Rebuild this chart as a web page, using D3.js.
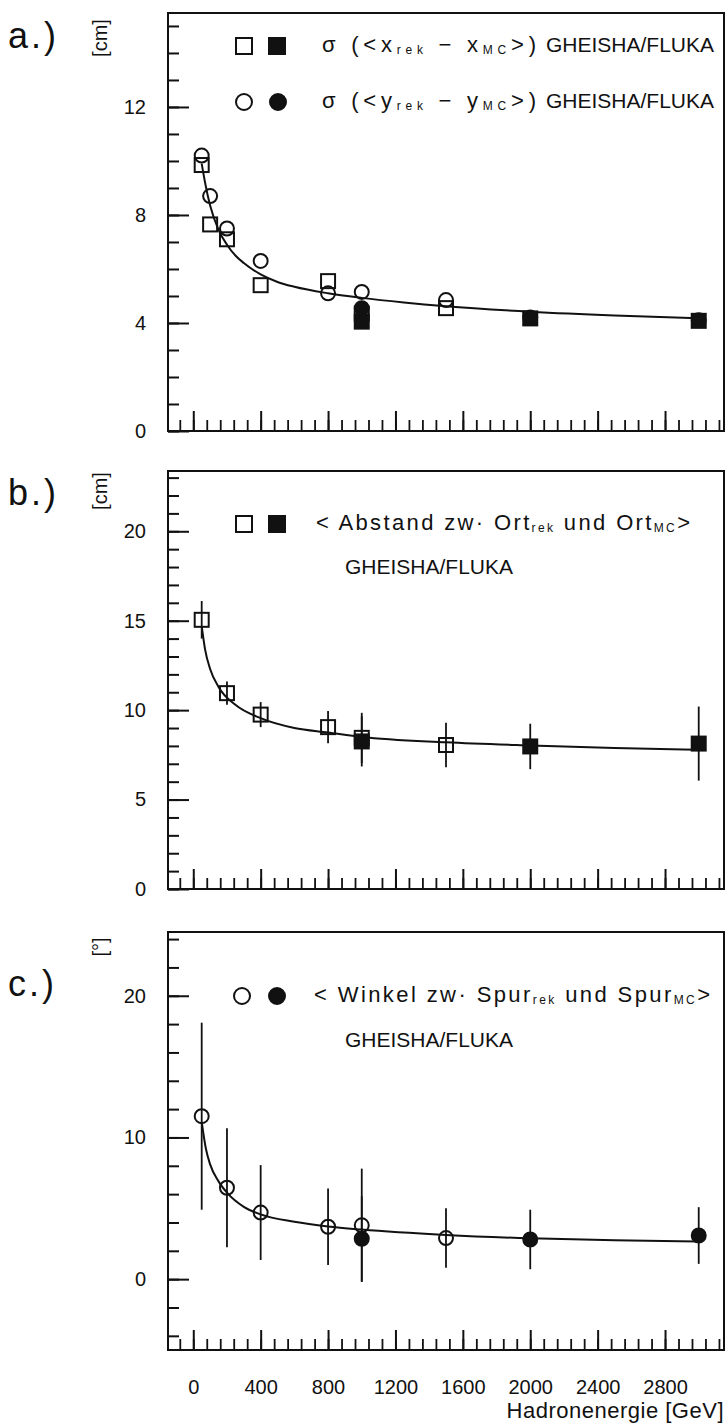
<!DOCTYPE html>
<html><head><meta charset="utf-8">
<script src="https://cdn.jsdelivr.net/npm/d3@7"></script>
<style>
body{margin:0;background:#fff}
svg{display:block}
text{font-family:"Liberation Sans",Arial,Helvetica,sans-serif;fill:#111}
</style>
</head><body>
<svg id="chart" width="727" height="1425"></svg>
<script>
// ---------------- data ----------------
const xTickValues = [0, 400, 800, 1200, 1600, 2000, 2400, 2800];
const aYTickValues = [0, 4, 8, 12];
const bYTickValues = [0, 5, 10, 15, 20];
const cYTickValues = [0, 10, 20];

// panel a: [energy GeV, value cm]
const aXOpen   = [[50, 9.85], [100, 7.65], [200, 7.1], [400, 5.4], [800, 5.55], [1000, 4.35], [1500, 4.55]];
const aXFilled = [[1000, 4.05], [2000, 4.17], [3000, 4.08]];
const aYOpen   = [[50, 10.2], [100, 8.7], [200, 7.5], [400, 6.3], [800, 5.1], [1000, 5.15], [1500, 4.85]];
const aYFilled = [[1000, 4.55], [2000, 4.2], [3000, 4.1]];
const aFit = [[50, 9.9], [70, 9.2], [100, 8.35], [150, 7.45], [200, 6.9], [250, 6.5], [300, 6.22], [350, 5.99],
              [400, 5.8], [500, 5.52], [600, 5.34], [800, 5.1], [1000, 4.93], [1250, 4.76], [1500, 4.62],
              [2000, 4.42], [2500, 4.28], [3000, 4.18]];

// panel b: [energy, value cm, error]
const bOpen   = [[50, 15.05, 1.05], [200, 10.95, 0.65], [400, 9.75, 0.7], [800, 9.05, 0.9], [1000, 8.45, 1.4], [1500, 8.05, 1.25]];
const bFilled = [[1000, 8.25, 1.4], [2000, 7.97, 1.27], [3000, 8.13, 2.07]];
const bFit = [[50, 14.7], [70, 13.4], [100, 12.3], [150, 11.3], [250, 10.3], [400, 9.55], [600, 9.0],
              [800, 8.75], [1000, 8.5], [1500, 8.2], [2000, 8.02], [2500, 7.88], [3000, 7.78]];

// panel c: [energy, value deg, error]
const cOpen   = [[50, 11.5, 6.6], [200, 6.45, 4.2], [400, 4.7, 3.35], [800, 3.7, 2.7], [1000, 3.8, 4.0], [1500, 2.9, 2.1]];
const cFilled = [[1000, 2.85, 3.0], [2000, 2.8, 2.1], [3000, 3.08, 2.0]];
const cFit = [[50, 11.1], [75, 9.2], [100, 8.1], [150, 6.9], [200, 6.1], [300, 5.1], [400, 4.57], [600, 4.05],
              [800, 3.72], [1000, 3.5], [1500, 3.12], [2000, 2.88], [2500, 2.74], [3000, 2.65]];

// ---------------- layout ----------------
const svg = d3.select("#chart");
const X0 = 168, X1 = 724;
const x = d3.scaleLinear().domain([-150, 3150]).range([X0, X1]);
const INK = "#111";
const MS = 14; // marker size

function drawPanel(cfg) {
  const y = d3.scaleLinear().domain(cfg.domain).range([cfg.bottom, cfg.top]);
  const g = svg.append("g");

  g.append("g").attr("transform", `translate(${X0},0)`)
    .call(d3.axisLeft(y).tickValues(cfg.yMinor).tickSize(-11).tickFormat(""))
    .call(s => s.select(".domain").remove())
    .call(s => s.selectAll("line").attr("stroke", INK).attr("stroke-width", 2));
  g.append("g").attr("transform", `translate(${X0},0)`)
    .call(d3.axisLeft(y).tickValues(cfg.yMajor).tickSize(-21).tickPadding(22).tickFormat(d3.format("d")))
    .call(s => s.select(".domain").remove())
    .call(s => s.selectAll("line").attr("stroke", INK).attr("stroke-width", 2))
    .call(s => s.selectAll("text").attr("font-size", 20).attr("fill", INK)
      .attr("font-family", '"Liberation Sans",Arial,sans-serif'));

  g.append("g").attr("transform", `translate(0,${cfg.bottom})`)
    .call(d3.axisBottom(x).tickValues(d3.range(-80, 3150, 80)).tickSize(-11).tickFormat(""))
    .call(s => s.select(".domain").remove())
    .call(s => s.selectAll("line").attr("stroke", INK).attr("stroke-width", 1.8));
  g.append("g").attr("transform", `translate(0,${cfg.bottom})`)
    .call(d3.axisBottom(x).tickValues(xTickValues).tickSize(-20).tickPadding(30)
      .tickFormat(cfg.xLabels ? d3.format("d") : ""))
    .call(s => s.select(".domain").remove())
    .call(s => s.selectAll("line").attr("stroke", INK).attr("stroke-width", 2))
    .call(s => s.selectAll("text").attr("font-size", 20).attr("fill", INK)
      .attr("font-family", '"Liberation Sans",Arial,sans-serif'));

  g.append("rect").attr("x", X0).attr("y", cfg.top).attr("width", X1 - X0).attr("height", cfg.bottom - cfg.top)
    .attr("fill", "none").attr("stroke", INK).attr("stroke-width", 2);

  g.append("path").datum(cfg.fit)
    .attr("d", d3.line().x(d => x(d[0])).y(d => y(d[1])).curve(d3.curveMonotoneX))
    .attr("fill", "none").attr("stroke", INK).attr("stroke-width", 2);

  cfg.series.forEach(s => {
    const sg = g.append("g");
    if (s.err) {
      sg.selectAll("line.err").data(s.data).join("line").attr("class", "err")
        .attr("x1", d => x(d[0])).attr("x2", d => x(d[0]))
        .attr("y1", d => y(d[1] - d[2])).attr("y2", d => y(d[1] + d[2]))
        .attr("stroke", INK).attr("stroke-width", 1.8);
    }
    if (s.shape === "square") {
      sg.selectAll("rect.m").data(s.data).join("rect").attr("class", "m")
        .attr("x", d => x(d[0]) - MS / 2).attr("y", d => y(d[1]) - MS / 2)
        .attr("width", MS).attr("height", MS)
        .attr("fill", s.filled ? INK : "none").attr("stroke", INK).attr("stroke-width", 2);
    } else {
      sg.selectAll("circle.m").data(s.data).join("circle").attr("class", "m")
        .attr("cx", d => x(d[0])).attr("cy", d => y(d[1])).attr("r", MS / 2)
        .attr("fill", s.filled ? INK : "none").attr("stroke", INK).attr("stroke-width", 2);
    }
  });
  return y;
}

drawPanel({top: 13, bottom: 431, domain: [0, 15.48], yMajor: aYTickValues, yMinor: d3.range(0, 16, 1),
  fit: aFit, xLabels: false,
  series: [
    {data: aXOpen, shape: "square", filled: false},
    {data: aYOpen, shape: "circle", filled: false},
    {data: aXFilled, shape: "square", filled: true},
    {data: aYFilled, shape: "circle", filled: true}
  ]});
drawPanel({top: 471, bottom: 889, domain: [0, 23.37], yMajor: bYTickValues, yMinor: d3.range(0, 24, 1),
  fit: bFit, xLabels: false,
  series: [
    {data: bOpen, shape: "square", filled: false, err: true},
    {data: bFilled, shape: "square", filled: true, err: true}
  ]});
drawPanel({top: 932, bottom: 1350, domain: [-5, 24.5], yMajor: cYTickValues, yMinor: d3.range(-4, 25, 2),
  fit: cFit, xLabels: true,
  series: [
    {data: cOpen, shape: "circle", filled: false, err: true},
    {data: cFilled, shape: "circle", filled: true, err: true}
  ]});

// ---------------- legends & labels ----------------
function legendMarker(shape, filled, cx, cy) {
  if (shape === "square") {
    svg.append("rect").attr("x", cx - 8).attr("y", cy - 8).attr("width", 16).attr("height", 16)
      .attr("fill", filled ? INK : "none").attr("stroke", INK).attr("stroke-width", 2);
  } else {
    svg.append("circle").attr("cx", cx).attr("cy", cy).attr("r", 8)
      .attr("fill", filled ? INK : "none").attr("stroke", INK).attr("stroke-width", 2);
  }
}
function richText(xp, yp, parts, len, size) {
  const t = svg.append("text").attr("x", xp).attr("y", yp).attr("font-size", size || 22)
    .attr("dominant-baseline", "middle");
  parts.forEach(p => {
    const ts = t.append("tspan").text(p[0]);
    if (p[1] === "sub") ts.attr("font-size", 12).attr("dy", 5);
    if (p[1] === "up") ts.attr("dy", -5);
  });
  if (len) t.attr("textLength", len).attr("lengthAdjust", "spacing");
  return t;
}
function plainText(xp, yp, s, anchor) {
  return svg.append("text").attr("x", xp).attr("y", yp).attr("font-size", 21)
    .attr("text-anchor", anchor || "start").attr("dominant-baseline", "middle").text(s);
}

// panel a legend
legendMarker("square", false, 244, 46); legendMarker("square", true, 277, 46);
richText(322, 46, [["σ (<x"], ["rek", "sub"], [" − x", "up"], ["MC", "sub"], [">)", "up"]], 214);
plainText(714, 46, "GHEISHA/FLUKA", "end");
legendMarker("circle", false, 244, 102); legendMarker("circle", true, 278, 102);
richText(322, 102, [["σ (<y"], ["rek", "sub"], [" − y", "up"], ["MC", "sub"], [">)", "up"]], 214);
plainText(714, 102, "GHEISHA/FLUKA", "end");

// panel b legend
legendMarker("square", false, 244, 524); legendMarker("square", true, 277, 524);
richText(316, 524, [["< Abstand zw· Ort"], ["rek", "sub"], [" und Ort", "up"], ["MC", "sub"], [">", "up"]], 374);
plainText(345, 568, "GHEISHA/FLUKA");

// panel c legend
legendMarker("circle", false, 242, 996); legendMarker("circle", true, 277, 996);
richText(314, 996, [["< Winkel zw· Spur"], ["rek", "sub"], [" und Spur", "up"], ["MC", "sub"], [">", "up"]], 396);
plainText(345, 1041, "GHEISHA/FLUKA");

// panel letters
[["a.)", 48], ["b.)", 505], ["c.)", 996]].forEach(d => {
  svg.append("text").attr("x", 8).attr("y", d[1]).attr("font-size", 36)
    .attr("font-family", '"DejaVu Sans",sans-serif').attr("letter-spacing", 3).text(d[0]);
});
// units
[["[cm]", 38], ["[cm]", 491], ["[°]", 947]].forEach(d => {
  svg.append("text").attr("transform", `translate(107,${d[1]}) rotate(-90)`)
    .attr("text-anchor", "middle").attr("font-size", 20).text(d[0]);
});
// x title
svg.append("text").attr("x", 724).attr("y", 1418).attr("text-anchor", "end").attr("font-size", 22)
  .attr("letter-spacing", 0.5).text("Hadronenergie [GeV]");
</script>
</body></html>
